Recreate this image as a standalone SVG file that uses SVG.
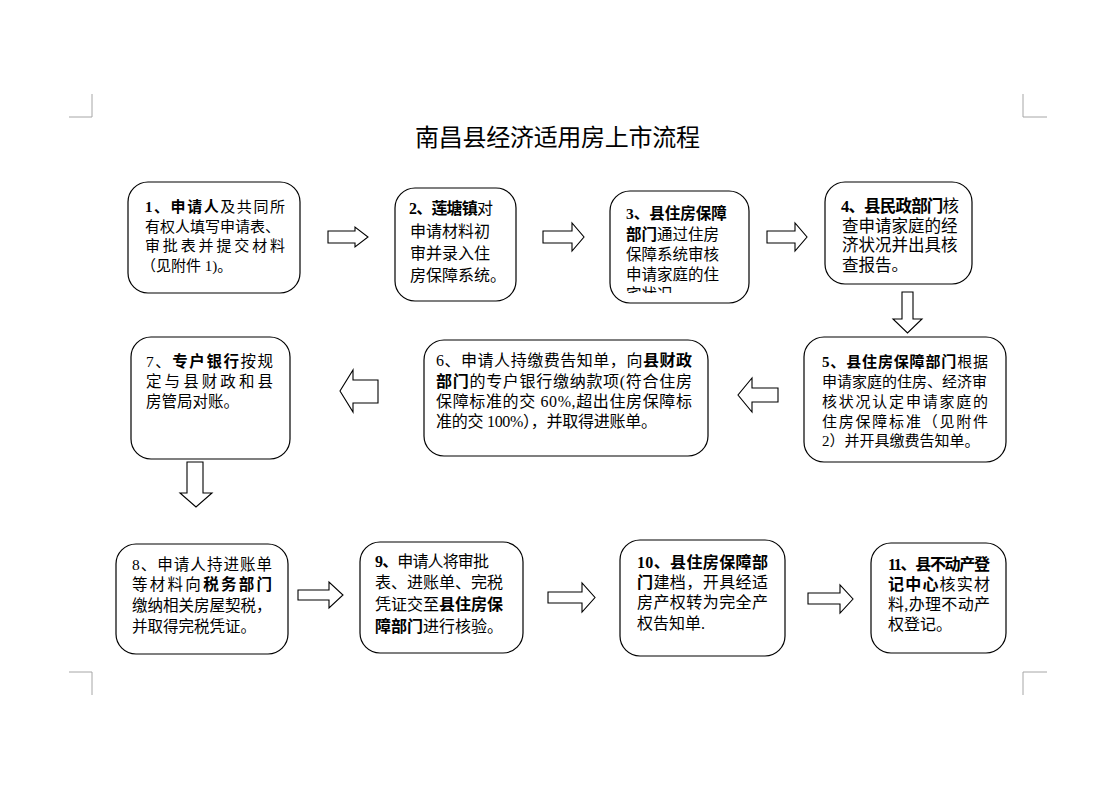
<svg xmlns="http://www.w3.org/2000/svg" width="1118" height="791" viewBox="0 0 1118 791">
<style>
.box{fill:#fff;stroke:#000;stroke-width:1.2}
.arr{fill:#fff;stroke:#000;stroke-width:1.1;stroke-linejoin:miter}
.t{font-family:"Liberation Serif","Noto Sans CJK SC",serif;fill:#000}
.b{font-weight:bold}
.mark{fill:none;stroke:#a6a6a6;stroke-width:1}
</style>
<defs>
<clipPath id="clip3"><rect x="612" y="192" width="136" height="101"/></clipPath>
</defs>
<rect width="1118" height="791" fill="#fff"/>
<g id="marks">
<path class="mark" d="M69,117 H92 V94"/>
<path class="mark" d="M1023,94 V117 H1047"/>
<path class="mark" d="M69,672 H92 V695"/>
<path class="mark" d="M1047,672 H1023 V695"/>
</g>
<text id="title" class="t" x="415" y="146" font-size="24" textLength="285" lengthAdjust="spacing" style="font-family:'Noto Sans CJK SC',sans-serif">南昌县经济适用房上市流程</text>

<g id="connectors">
<path class="arr" d="M328,231 H355 V227 L368,237 L355,247 V243 H328 Z"/>
<path class="arr" d="M543,231 H572 V223 L584,237 L572,251 V243 H543 Z"/>
<path class="arr" d="M767,231 H795 V223 L807,237 L795,251 V243 H767 Z"/>
<path class="arr" d="M902,292 H913 V319 H922 L907.5,333 L893,319 H902 Z"/>
<path class="arr" d="M778,388 H752 V378 L738,395 L752,412 V402 H778 Z"/>
<path class="arr" d="M378,380 H353 V370 L340,391 L353,412 V403 H378 Z"/>
<path class="arr" d="M187,462 H203 V493 H212 L196,507 L180,493 H187 Z"/>
<path class="arr" d="M298,590 H329 V582 L343,595 L329,608 V600 H298 Z"/>
<path class="arr" d="M548,592 H582 V583 L595,597.5 L582,612 V603 H548 Z"/>
<path class="arr" d="M808,593 H840 V585 L853,599 L840,613 V604 H808 Z"/>
</g>

<g id="node1">
<rect class="box" x="128" y="182" width="172" height="111" rx="20"/>
<g class="t" font-size="15">
<text x="145" y="212" textLength="140" lengthAdjust="spacing"><tspan class="b">1、申请人</tspan>及共同所</text>
<text x="145" y="232">有权人填写申请表、</text>
<text x="145" y="251" textLength="140" lengthAdjust="spacing">审批表并提交材料</text>
<text x="141" y="271">（见附件 1)。</text>
</g>
</g>

<g id="node2">
<rect class="box" x="395" y="188" width="121" height="113" rx="20"/>
<g class="t" font-size="16">
<text x="409" y="214" textLength="84" lengthAdjust="spacing"><tspan class="b">2、莲塘镇</tspan>对</text>
<text x="410" y="237">申请材料初</text>
<text x="410" y="259">审并录入住</text>
<text x="410" y="281">房保障系统。</text>
</g>
</g>

<g id="node3">
<rect class="box" x="610" y="191" width="139" height="112" rx="20"/>
<g class="t" font-size="15.5" clip-path="url(#clip3)">
<text x="626" y="219"><tspan class="b">3、县住房保障</tspan></text>
<text x="626" y="240"><tspan class="b">部门</tspan>通过住房</text>
<text x="626" y="260">保障系统审核</text>
<text x="626" y="280">申请家庭的住</text>
<text x="626" y="300">宅状况</text>
</g>
</g>

<g id="node4">
<rect class="box" x="825" y="182" width="147" height="102" rx="20"/>
<g class="t" font-size="16.5">
<text x="841" y="212" textLength="118" lengthAdjust="spacing"><tspan class="b">4、县民政部门</tspan>核</text>
<text x="842" y="232">查申请家庭的经</text>
<text x="842" y="251">济状况并出具核</text>
<text x="842" y="271">查报告。</text>
</g>
</g>

<g id="node5">
<rect class="box" x="804" y="337" width="202" height="125" rx="20"/>
<g class="t" font-size="15">
<text x="822" y="367" textLength="166" lengthAdjust="spacing"><tspan class="b">5、县住房保障部门</tspan>根据</text>
<text x="822" y="387">申请家庭的住房、经济审</text>
<text x="822" y="407" textLength="166" lengthAdjust="spacing">核状况认定申请家庭的</text>
<text x="822" y="427" textLength="166" lengthAdjust="spacing">住房保障标准（见附件</text>
<text x="822" y="446">2）并开具缴费告知单。</text>
</g>
</g>

<g id="node6">
<rect class="box" x="424" y="340" width="284" height="116" rx="20"/>
<g class="t" font-size="16">
<text x="436" y="366" textLength="256" lengthAdjust="spacing">6、申请人持缴费告知单，向<tspan class="b">县财政</tspan></text>
<text x="436" y="386.5" textLength="256" lengthAdjust="spacing"><tspan class="b">部门</tspan>的专户银行缴纳款项(符合住房</text>
<text x="436" y="407" textLength="256" lengthAdjust="spacing">保障标准的交 60%,超出住房保障标</text>
<text x="436" y="427" textLength="221" lengthAdjust="spacing">准的交 100%），并取得进账单。</text>
</g>
</g>

<g id="node7">
<rect class="box" x="131" y="337" width="159" height="122" rx="20"/>
<g class="t" font-size="15.5">
<text x="146" y="367" textLength="127" lengthAdjust="spacing">7、<tspan class="b">专户银行</tspan>按规</text>
<text x="146" y="387" textLength="127" lengthAdjust="spacing">定与县财政和县</text>
<text x="146" y="407">房管局对账。</text>
</g>
</g>

<g id="node8">
<rect class="box" x="116" y="544" width="172" height="110" rx="20"/>
<g class="t" font-size="15.5">
<text x="132" y="570" textLength="140" lengthAdjust="spacing">8、申请人持进账单</text>
<text x="132" y="590" textLength="140" lengthAdjust="spacing">等材料向<tspan class="b">税务部门</tspan></text>
<text x="132" y="611">缴纳相关房屋契税，</text>
<text x="132" y="632">并取得完税凭证。</text>
</g>
</g>

<g id="node9">
<rect class="box" x="360" y="542" width="163" height="111" rx="20"/>
<g class="t" font-size="16">
<text x="375" y="567" textLength="114" lengthAdjust="spacing"><tspan class="b">9、</tspan>申请人将审批</text>
<text x="375" y="588">表、进账单、完税</text>
<text x="375" y="610">凭证交至<tspan class="b">县住房保</tspan></text>
<text x="375" y="632"><tspan class="b">障部门</tspan>进行核验。</text>
</g>
</g>

<g id="node10">
<rect class="box" x="620" y="540" width="165" height="116" rx="20"/>
<g class="t" font-size="16">
<text x="637" y="568" textLength="131" lengthAdjust="spacing"><tspan class="b">10、县住房保障部</tspan></text>
<text x="637" y="588" textLength="131" lengthAdjust="spacing"><tspan class="b">门</tspan>建档，开具经适</text>
<text x="637" y="608" textLength="131" lengthAdjust="spacing">房产权转为完全产</text>
<text x="637" y="629">权告知单.</text>
</g>
</g>

<g id="node11">
<rect class="box" x="871" y="543" width="135" height="110" rx="20"/>
<g class="t" font-size="16">
<text x="888" y="570" textLength="102" lengthAdjust="spacing"><tspan class="b">11、县不动产登</tspan></text>
<text x="888" y="590" textLength="102" lengthAdjust="spacing"><tspan class="b">记中心</tspan>核实材</text>
<text x="888" y="610" textLength="102" lengthAdjust="spacing">料,办理不动产</text>
<text x="888" y="630">权登记。</text>
</g>
</g>
</svg>
